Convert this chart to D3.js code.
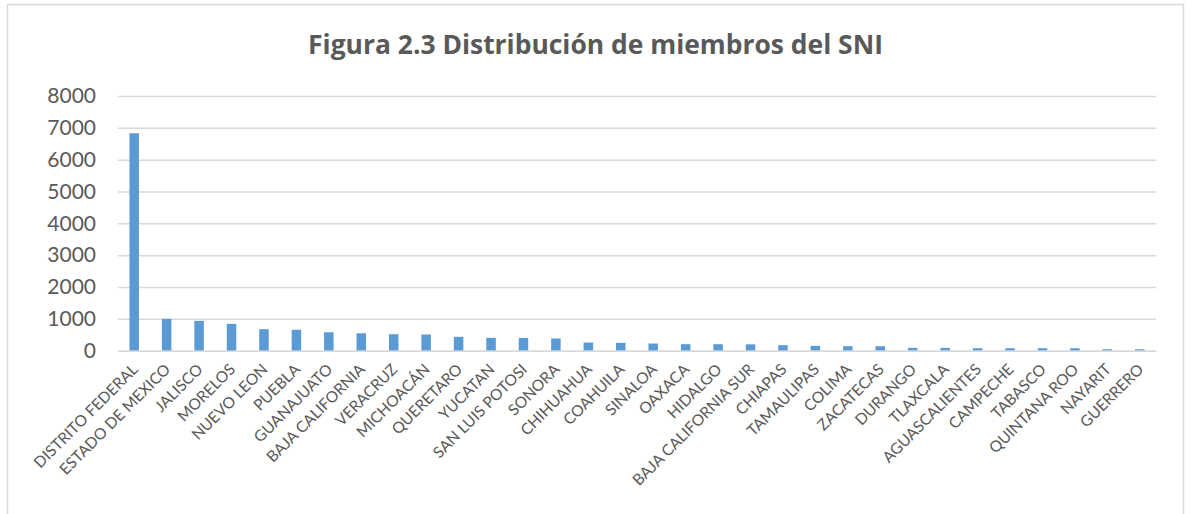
<!DOCTYPE html>
<html>
<head>
<meta charset="utf-8">
<script src="https://cdn.jsdelivr.net/npm/d3@7"></script>
<style>
  body { margin: 0; background: #ffffff; }
  svg { display: block; }
</style>
</head>
<body>
<div id="chart"></div>
<script>
// Data
var estados = ["DISTRITO FEDERAL", "ESTADO DE MEXICO", "JALISCO", "MORELOS", "NUEVO LEON", "PUEBLA",
    "GUANAJUATO", "BAJA CALIFORNIA", "VERACRUZ", "MICHOACÁN", "QUERETARO", "YUCATAN", "SAN LUIS POTOSI",
    "SONORA", "CHIHUAHUA", "COAHUILA", "SINALOA", "OAXACA", "HIDALGO", "BAJA CALIFORNIA SUR", "CHIAPAS",
    "TAMAULIPAS", "COLIMA", "ZACATECAS", "DURANGO", "TLAXCALA", "AGUASCALIENTES", "CAMPECHE", "TABASCO",
    "QUINTANA ROO", "NAYARIT", "GUERRERO"];
var miembros = [6830, 1000, 937, 843, 676, 657, 580, 547, 519, 509, 435, 403, 400, 383, 257, 247, 226,
    204, 204, 200, 173, 152, 141, 139, 88, 88, 80, 78, 78, 78, 47, 45];
var yTicks = [0, 1000, 2000, 3000, 4000, 5000, 6000, 7000, 8000];
var titulo = "Figura 2.3 Distribución de miembros del SNI";

function init() {
    var w = 1192, h = 514;
    var plot = { left: 118, right: 1156, top: 96, bottom: 350.7 };
    var fontFam = "Lato, 'Open Sans', sans-serif";

    var svg = d3.select("#chart").append("svg")
        .attr("width", w)
        .attr("height", h);

    // chart frame
    svg.append("rect")
        .attr("x", 7.5).attr("y", 4.5)
        .attr("width", 1176).attr("height", 520)
        .attr("fill", "#ffffff")
        .attr("stroke", "#d9d9d9")
        .attr("stroke-width", 1.5);

    var xScale = d3.scaleBand()
        .domain(estados)
        .range([plot.left, plot.right])
        .paddingInner(0.707)
        .paddingOuter(0.3535);

    var yScale = d3.scaleLinear()
        .domain([0, 8000])
        .range([plot.bottom, plot.top]);

    // gridlines + y labels
    var yAxis = d3.axisLeft(yScale)
        .tickValues(yTicks)
        .tickSize(-(plot.right - plot.left))
        .tickPadding(22)
        .tickFormat(d3.format("d"));

    var gy = svg.append("g")
        .attr("transform", "translate(" + plot.left + ",0)")
        .call(yAxis);
    gy.select(".domain").remove();
    gy.selectAll(".tick line")
        .attr("stroke", "#d9d9d9")
        .attr("stroke-width", 1.5);
    gy.selectAll(".tick text")
        .attr("fill", "#595959")
        .style("font-family", fontFam)
        .style("font-size", "21px");

    // bars
    svg.append("g").selectAll("rect")
        .data(miembros)
        .enter()
        .append("rect")
        .attr("x", (d, i) => xScale(estados[i]))
        .attr("y", d => yScale(d))
        .attr("width", xScale.bandwidth())
        .attr("height", d => yScale(0) - yScale(d))
        .attr("fill", "#5b9bd5");

    // category labels
    var xAxis = d3.axisBottom(xScale).tickSize(0).tickPadding(0);
    var gx = svg.append("g")
        .attr("transform", "translate(0," + plot.bottom + ")")
        .call(xAxis);
    gx.select(".domain")
        .attr("stroke", "#d9d9d9")
        .attr("stroke-width", 1.5);
    gx.selectAll(".tick text")
        .attr("fill", "#595959")
        .style("font-family", fontFam)
        .style("font-size", "15.5px")
        .attr("text-anchor", "end")
        .attr("dy", "0.7em")
        .attr("transform", "translate(-3,12) rotate(-45)");

    // title, sized so its width matches the original
    var title = svg.append("text")
        .attr("x", 595.5)
        .attr("y", 54)
        .attr("text-anchor", "middle")
        .attr("fill", "#595959")
        .style("font-family", "'Open Sans', Lato, sans-serif")
        .style("font-weight", "bold")
        .style("font-size", "24px")
        .text(titulo);
    var tw = title.node().getComputedTextLength();
    title.style("font-size", (24 * 575 / tw).toFixed(2) + "px");
}

window.onload = init;
</script>
</body>
</html>
